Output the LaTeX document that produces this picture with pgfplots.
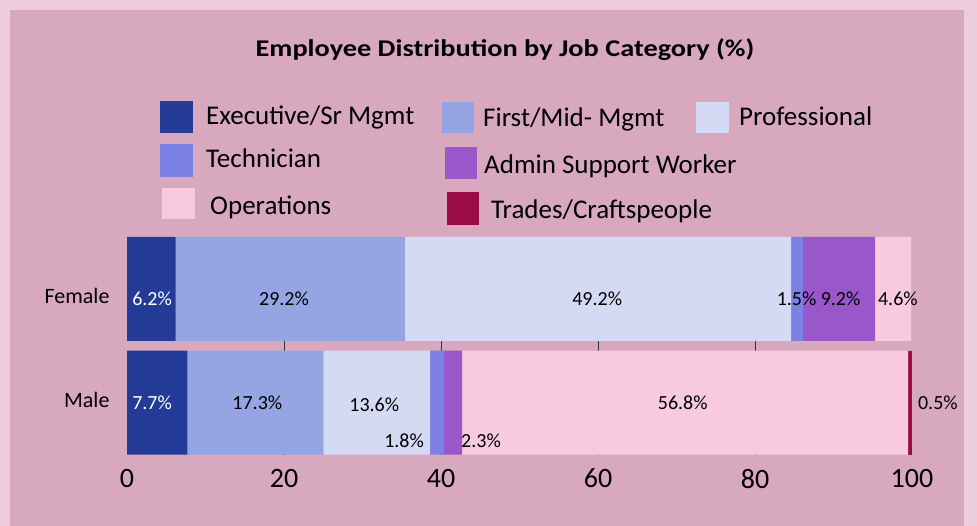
\documentclass[border=0pt]{standalone}
\usepackage{fontspec}
\setmainfont{Carlito}
\usepackage{pgfplots}
\pgfplotsset{compat=1.18}
\definecolor{outerbg}{HTML}{EDCCDC}
\definecolor{innerbg}{HTML}{D8A9BE}
\definecolor{cexec}{HTML}{233A96}
\definecolor{cfirst}{HTML}{95A5E4}
\definecolor{cprof}{HTML}{D5DAF4}
\definecolor{ctech}{HTML}{7B80E4}
\definecolor{cadmin}{HTML}{9A57C9}
\definecolor{cops}{HTML}{F8CADF}
\definecolor{ctrade}{HTML}{9A0C45}
\begin{document}
\begin{tikzpicture}
\fill[outerbg] (0pt,0pt) rectangle (977pt,-526pt);
\fill[innerbg] (10pt,-10pt) rectangle (964pt,-526pt);
% title
\node[font=\bfseries\fontsize{24}{28}\selectfont, inner sep=0pt] at (505pt,-50pt) {\scalebox{1.18}[1]{Employee Distribution by Job Category (\%)}};
% legend
\def\legfont{\fontsize{27}{31}\selectfont}
\fill[cexec]   (160pt,-101pt) rectangle (193pt,-133pt);
\node[font=\legfont, anchor=base west, inner sep=0pt] at (206pt,-125pt) {Executive/Sr Mgmt};
\fill[cfirst]  (442pt,-102pt) rectangle (474pt,-133pt);
\node[font=\legfont, anchor=base west, inner sep=0pt] at (483pt,-127pt) {First/Mid- Mgmt};
\fill[cprof]   (696pt,-102pt) rectangle (729pt,-133pt);
\node[font=\legfont, anchor=base west, inner sep=0pt] at (739pt,-126pt) {Professional};
\fill[ctech]   (160pt,-144pt) rectangle (193pt,-177pt);
\node[font=\legfont, anchor=base west, inner sep=0pt] at (206pt,-168pt) {Technician};
\fill[cadmin]  (445pt,-147pt) rectangle (477pt,-179pt);
\node[font=\legfont, anchor=base west, inner sep=0pt] at (484pt,-174pt) {Admin Support Worker};
\fill[cops]    (162pt,-188pt) rectangle (195pt,-219pt);
\node[font=\legfont, anchor=base west, inner sep=0pt] at (210pt,-215pt) {Operations};
\fill[ctrade]  (447pt,-192pt) rectangle (479pt,-225pt);
\node[font=\legfont, anchor=base west, inner sep=0pt] at (491pt,-219pt) {Trades/Craftspeople};
\begin{axis}[
  at={(127pt,-454.5pt)}, anchor=south west,
  scale only axis, width=785pt, height=217.5pt,
  xmin=0, xmax=100, ymin=-0.458, ymax=1.458,
  xbar stacked, bar width=104pt,
  axis line style={draw=none},
  major tick length=0pt,
  xtick={0,20,40,60,80,100},
  ytick={0.022,0.938}, yticklabels={Male,Female},
  extra x ticks={20,40,60,80}, extra x tick labels={},
  extra x tick style={xmajorgrids=true, major grid style={draw=black!80, line width=0.8pt}},
  /pgf/number format/assume math mode=true,
  xticklabel style={font=\fontsize{28}{30}\selectfont, yshift=-11pt},
  yticklabel style={font=\fontsize{22}{25}\selectfont, xshift=-14pt},
  clip=false,
]
\addplot[fill=cexec, draw=none]  coordinates {(7.7,0) (6.2,1)};
\addplot[fill=cfirst, draw=none] coordinates {(17.3,0) (29.2,1)};
\addplot[fill=cprof, draw=none]  coordinates {(13.6,0) (49.2,1)};
\addplot[fill=ctech, draw=none]  coordinates {(1.8,0) (1.5,1)};
\addplot[fill=cadmin, draw=none] coordinates {(2.3,0) (9.2,1)};
\addplot[fill=cops, draw=none]   coordinates {(56.8,0) (4.6,1)};
\addplot[fill=ctrade, draw=none] coordinates {(0.5,0) (0,1)};
\coordinate (f1) at (axis cs:3.2,0.917);
\coordinate (f2) at (axis cs:20.0,0.917);
\coordinate (f3) at (axis cs:59.9,0.917);
\coordinate (f4) at (axis cs:85.3,0.917);
\coordinate (f5) at (axis cs:90.9,0.917);
\coordinate (f6) at (axis cs:98.2,0.917);
\coordinate (m1) at (axis cs:3.2,0);
\coordinate (m2) at (axis cs:16.6,0);
\coordinate (m3) at (axis cs:31.5,-0.02);
\coordinate (m4) at (axis cs:35.3,-0.34);
\coordinate (m5) at (axis cs:45.1,-0.34);
\coordinate (m6) at (axis cs:70.8,0);
\coordinate (m7) at (axis cs:103.3,0);
\end{axis}
\tikzset{lab/.style={font=\fontsize{20}{24}\selectfont, inner sep=0pt}}
\node[lab, text=white] at (f1) {6.2\%};
\node[lab] at (f2) {29.2\%};
\node[lab] at (f3) {49.2\%};
\node[lab] at (f4) {1.5\%};
\node[lab] at (f5) {9.2\%};
\node[lab] at (f6) {4.6\%};
\node[lab, text=white] at (m1) {7.7\%};
\node[lab] at (m2) {17.3\%};
\node[lab] at (m3) {13.6\%};
\node[lab] at (m4) {1.8\%};
\node[lab] at (m5) {2.3\%};
\node[lab] at (m6) {56.8\%};
\node[lab] at (m7) {0.5\%};
\end{tikzpicture}
\end{document}
